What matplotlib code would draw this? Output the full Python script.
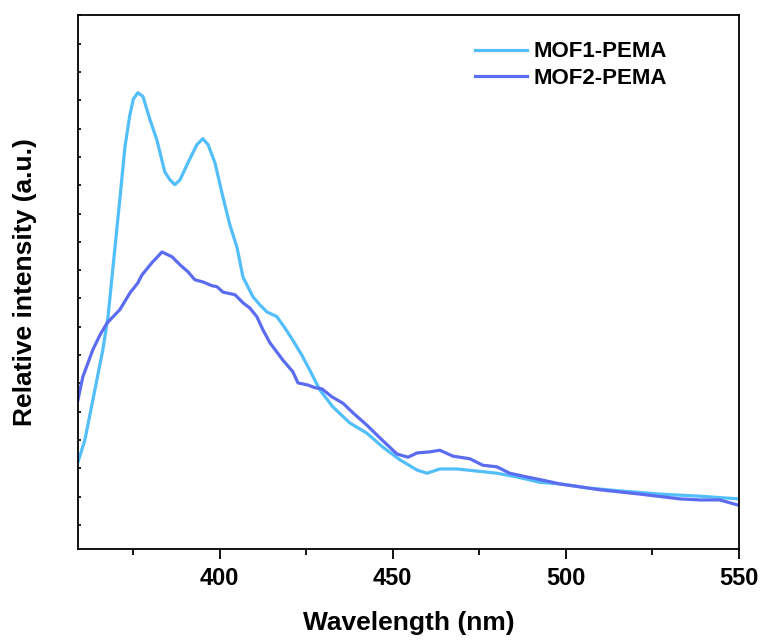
import numpy as np
import matplotlib
matplotlib.use("Agg")
import matplotlib.pyplot as plt

plt.rcParams["font.family"] = ["Liberation Sans", "DejaVu Sans"]
plt.rcParams["font.weight"] = "bold"

# MOF1-PEMA emission spectrum (arbitrary units)
mof1_wl = [359.0, 361.0, 363.9, 366.2, 367.7, 369.7, 371.1, 372.6, 374.0, 375.0,
           376.3, 377.8, 379.8, 381.8, 384.1, 385.6, 387.0, 388.5, 390.8, 393.4,
           395.1, 396.6, 398.6, 400.9, 402.9, 405.0, 406.7, 409.6, 411.6, 413.6,
           416.5, 418.8, 421.1, 423.7, 426.0, 428.9, 432.7, 437.6, 442.5, 447.1,
           452.1, 457.0, 459.9, 463.6, 468.5, 474.3, 480.1, 485.9, 492.5, 498.3,
           507.0, 515.6, 527.2, 538.8, 550.0]
mof1_int = [16.3, 20.4, 29.8, 37.3, 43.5, 56.4, 65.4, 75.3, 81.2, 84.2,
            85.4, 84.7, 80.4, 76.6, 70.6, 69.1, 68.2, 69.1, 72.3, 75.7,
            76.8, 75.7, 72.3, 65.9, 60.7, 56.4, 50.9, 47.2, 45.7, 44.4,
            43.5, 41.4, 39.1, 36.3, 33.5, 29.8, 26.6, 23.6, 21.7, 19.1,
            16.7, 14.8, 14.2, 15.0, 15.0, 14.6, 14.2, 13.5, 12.5, 12.2,
            11.4, 10.9, 10.3, 9.9, 9.4]

# MOF2-PEMA emission spectrum
mof2_wl = [359.0, 360.4, 363.3, 365.4, 367.4, 371.1, 374.0, 376.3, 377.5, 380.4,
           383.3, 386.2, 388.5, 390.8, 392.8, 395.1, 397.7, 399.2, 400.9, 404.4,
           406.7, 408.7, 410.7, 412.5, 414.5, 418.2, 421.1, 422.6, 425.5, 427.5,
           429.5, 432.4, 435.6, 438.5, 442.5, 446.3, 451.2, 454.4, 457.0, 460.7,
           463.6, 467.4, 472.3, 476.0, 480.1, 483.8, 488.8, 493.4, 498.3, 509.9,
           521.4, 533.0, 538.8, 544.5, 550.0]
mof2_int = [27.9, 32.2, 37.3, 40.1, 42.3, 44.8, 47.9, 49.8, 51.3, 53.6,
            55.6, 54.7, 53.2, 51.9, 50.4, 50.0, 49.3, 49.1, 48.1, 47.6,
            46.1, 45.1, 43.5, 41.0, 38.6, 35.4, 33.2, 31.1, 30.7, 30.2,
            30.0, 28.5, 27.3, 25.5, 23.2, 20.8, 17.8, 17.2, 18.0, 18.2,
            18.5, 17.4, 16.9, 15.7, 15.4, 14.2, 13.5, 12.9, 12.2, 11.1,
            10.3, 9.4, 9.2, 9.2, 8.2]

fig = plt.figure(figsize=(7.64, 6.4), dpi=100)
ax = fig.add_axes([0.102, 0.142, 0.865, 0.835])

ax.plot(mof1_wl, mof1_int, color="#52BEFA", linewidth=2.3, label="MOF1-PEMA")
ax.plot(mof2_wl, mof2_int, color="#5C6CF0", linewidth=2.3, label="MOF2-PEMA")

ax.set_xlim(359, 550)
ax.set_ylim(0, 100)
ax.set_xticks([400, 450, 500, 550])
ax.set_xticks([375, 425, 475, 525], minor=True)
ax.set_yticks(np.arange(4.5, 100, 5.3))
ax.set_yticklabels([])

ax.tick_params(axis="x", which="major", direction="out", length=7, width=1.3,
               labelsize=17, pad=6)
ax.tick_params(axis="x", which="minor", direction="out", length=4.5, width=1.3)
ax.tick_params(axis="y", which="major", direction="in", length=2.5, width=1.2)
for lab in ax.get_xticklabels():
    lab.set_fontweight("bold")

for s in ax.spines.values():
    s.set_linewidth(1.3)

ax.set_xlabel("Wavelength (nm)", fontsize=19, fontweight="bold", labelpad=15)
ax.set_ylabel("Relative intensity (a.u.)", fontsize=19, fontweight="bold", labelpad=26)

leg = ax.legend(loc="upper left", bbox_to_anchor=(0.6006, 0.95), frameon=False,
                fontsize=16, handlelength=2.35, handletextpad=0.3,
                labelspacing=0.25, borderpad=0, borderaxespad=0)
for t in leg.get_texts():
    t.set_fontweight("bold")

fig.savefig("out.png", dpi=100)
